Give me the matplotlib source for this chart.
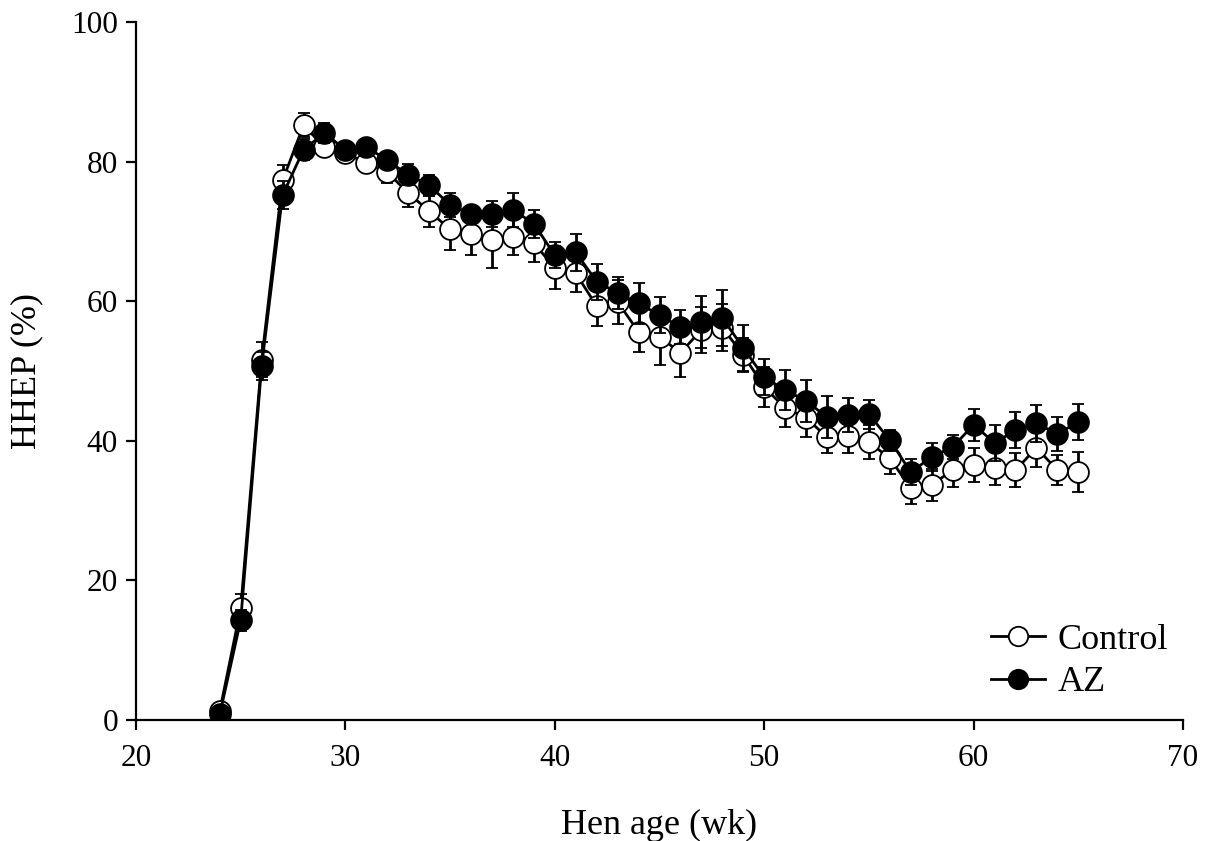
import matplotlib
matplotlib.use("Agg")
import matplotlib.pyplot as plt
from matplotlib.lines import Line2D

# donnees
semaines = list(range(24, 66))

control = [1.3, 16.0, 51.6, 77.3, 85.2, 82.1, 81.2, 79.8, 78.5, 75.5,
           72.9, 70.3, 69.6, 68.8, 69.2, 68.3, 64.8, 64.0, 59.3, 59.9,
           55.6, 54.9, 52.6, 55.9, 56.2, 52.3, 47.7, 44.7, 43.3, 40.5,
           40.7, 39.8, 37.5, 33.2, 33.7, 35.8, 36.5, 36.1, 35.8, 39.0,
           35.8, 35.5]
control_se = [0.5, 2.0, 2.5, 2.2, 1.7, 1.2, 1.0, 1.2, 1.5, 2.0,
              2.3, 3.0, 3.0, 4.0, 2.6, 2.7, 3.1, 2.7, 2.9, 3.1,
              2.9, 4.1, 3.4, 3.3, 3.4, 2.5, 2.9, 2.7, 2.7, 2.3,
              2.4, 2.4, 2.3, 2.3, 2.3, 2.4, 2.4, 2.4, 2.4, 2.7,
              2.1, 2.9]

az = [0.8, 14.3, 50.7, 75.2, 81.7, 84.1, 81.7, 82.1, 80.2, 78.1,
      76.6, 73.8, 72.5, 72.5, 73.1, 71.1, 66.6, 67.0, 62.8, 61.2,
      59.7, 58.0, 56.3, 57.0, 57.6, 53.3, 49.1, 47.3, 45.7, 43.4,
      43.7, 43.8, 40.1, 35.5, 37.7, 39.1, 42.3, 39.7, 41.5, 42.5,
      41.0, 42.7]
az_se = [0.5, 1.5, 2.0, 2.0, 1.5, 1.5, 1.0, 1.0, 1.0, 1.5,
         1.5, 1.7, 1.0, 1.9, 2.4, 2.0, 1.9, 2.7, 2.6, 2.3,
         2.9, 2.6, 2.4, 3.7, 4.0, 3.3, 2.6, 2.9, 3.0, 3.0,
         2.4, 2.1, 1.5, 1.9, 2.0, 1.7, 2.3, 2.6, 2.6, 2.7,
         2.4, 2.6]

xticks = [20, 30, 40, 50, 60, 70]
yticks = [0, 20, 40, 60, 80, 100]

plt.rcParams['font.family'] = ['Liberation Serif', 'DejaVu Serif']

fig = plt.figure(figsize=(12.09, 8.41), dpi=100)
ax = fig.add_axes([0.1125, 0.1439, 0.866, 0.8299])

style = dict(color='black', lw=2.0, ms=15, mew=1.3, mec='black',
             ecolor='black', elinewidth=2.0, capsize=4.3, capthick=2.0)

ax.errorbar(semaines, control, yerr=control_se, marker='o', mfc='white',
            zorder=2, **style)
ax.errorbar(semaines, az, yerr=az_se, marker='o', mfc='black',
            zorder=3, **style)

ax.set_xlim(20, 70)
ax.set_ylim(0, 100)
ax.set_xticks(xticks)
ax.set_yticks(yticks)

for s in ['top', 'right']:
    ax.spines[s].set_visible(False)
for s in ['left', 'bottom']:
    ax.spines[s].set_linewidth(1.6)
ax.tick_params(direction='out', length=7, width=1.6, labelsize=22.5)
ax.tick_params(axis='x', pad=10)
ax.tick_params(axis='y', pad=6)

ax.set_xlabel('Hen age (wk)', fontsize=26, labelpad=26)
ax.set_ylabel('HHEP (%)', fontsize=26, labelpad=20)

# legende avec des proxys (sans barres d'erreur)
h1 = Line2D([], [], color='black', lw=2.0, marker='o', ms=14, mfc='white', mec='black', mew=1.3)
h2 = Line2D([], [], color='black', lw=2.0, marker='o', ms=14, mfc='black', mec='black', mew=1.3)
ax.legend([h1, h2], ['Control', 'AZ'], loc='lower right', bbox_to_anchor=(1.017, -0.017),
          frameon=False, fontsize=26, handlelength=1.5, handletextpad=0.35,
          labelspacing=0.25)

fig.savefig('out.png', dpi=100, facecolor='white')
